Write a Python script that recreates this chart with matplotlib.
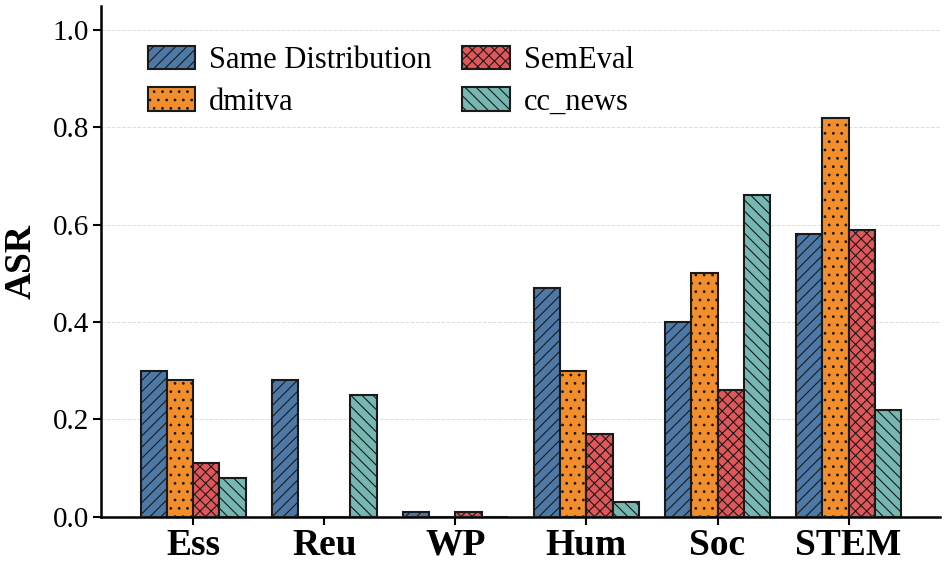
import numpy as np
import matplotlib.pyplot as plt

plt.rcParams['font.family'] = ['Liberation Serif', 'DejaVu Serif']
plt.rcParams['hatch.linewidth'] = 0.8

categories = ["Ess", "Reu", "WP", "Hum", "Soc", "STEM"]
series_names = ["Same Distribution", "dmitva", "SemEval", "cc_news"]
same_dist = [0.30, 0.28, 0.01, 0.47, 0.40, 0.58]
dmitva = [0.28, 0.00, 0.00, 0.30, 0.50, 0.82]
semeval = [0.11, 0.00, 0.01, 0.17, 0.26, 0.59]
cc_news = [0.08, 0.25, 0.00, 0.03, 0.66, 0.22]

colors = ['#4e79a7', '#f28e2b', '#e15759', '#76b7b2']
hatches = ['///', '..', 'xxx', '\\\\\\']

fig, ax = plt.subplots(figsize=(9.47, 5.66), dpi=100)
x = np.arange(len(categories))
w = 0.2
for i, (vals, name) in enumerate(zip([same_dist, dmitva, semeval, cc_news], series_names)):
    ax.bar(x + (i - 1.5) * w, vals, w, color=colors[i], hatch=hatches[i],
           edgecolor='#1a1a1a', linewidth=1.5, label=name, zorder=3)

ax.set_xlim(-0.7, 5.7)
ax.set_ylim(0, 1.05)
ax.set_yticks([0, 0.2, 0.4, 0.6, 0.8, 1.0])
ax.set_yticklabels(['0.0', '0.2', '0.4', '0.6', '0.8', '1.0'], fontsize=21)
ax.set_xticks(x)
ax.set_xticklabels(categories, fontsize=27, fontweight='bold')
ax.set_ylabel("ASR", fontsize=27, fontweight='bold', labelpad=10)
ax.grid(True, axis='y', linestyle='--', color='#dddddd', linewidth=0.7, zorder=0)
ax.spines['top'].set_visible(False)
ax.spines['right'].set_visible(False)
ax.spines['left'].set_linewidth(1.8)
ax.spines['bottom'].set_linewidth(1.8)
ax.tick_params(axis='both', width=1.5, length=6, pad=3)
ax.tick_params(axis='x', pad=2)

ax.legend(loc='upper left', ncol=2, frameon=False, fontsize=22,
          bbox_to_anchor=(0.023, 0.975), handlelength=1.55, handleheight=0.8,
          handletextpad=0.45, columnspacing=1.0, labelspacing=0.4)

fig.subplots_adjust(left=0.107, right=0.993, top=0.99, bottom=0.087)
fig.savefig('out.png', dpi=100)
